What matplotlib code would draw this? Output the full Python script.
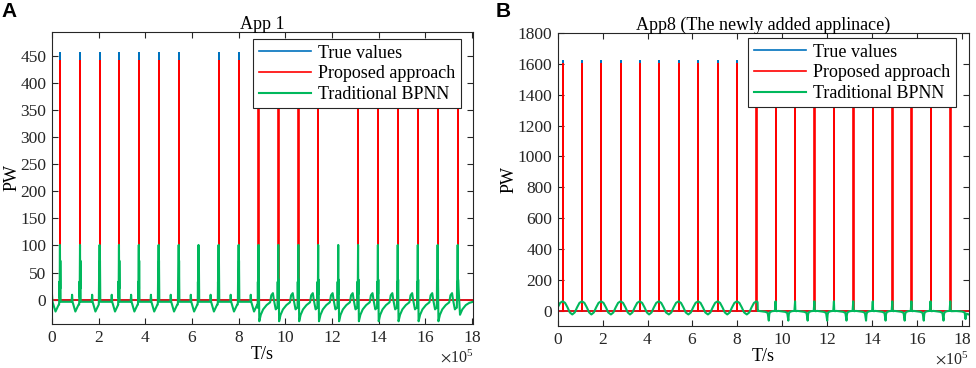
import numpy as np
import matplotlib
matplotlib.use('Agg')
import matplotlib.pyplot as plt
from matplotlib.ticker import MultipleLocator, ScalarFormatter

plt.rcParams['font.family'] = ['Liberation Serif', 'DejaVu Serif']
plt.rcParams['mathtext.fontset'] = 'stix'

# ---------------- App 1 (x in units of 1e5 s) ----------------
app1_spikes = [0.34, 1.20, 2.04, 2.87, 3.72, 4.57, 5.43, 7.14, 8.00,
               8.85, 9.70, 10.56, 11.41, 13.12, 13.97, 14.82, 15.68, 16.53, 17.39]
app1_true_peak = [455, 455, 455, 455, 455, 455, 455, 455, 455,
                  0, 0, 0, 0, 0, 0, 0, 0, 0, 0]
app1_prop_peak = [440] * 19
app1_bpnn_first = [0.34, 1.20, 2.04, 2.87, 3.72, 4.57, 5.43, 6.28, 7.14, 8.00]
app1_bpnn_second = [8.85, 9.70, 10.56, 11.41, 12.27, 13.12, 13.97, 14.82, 15.68, 16.53, 17.39]
app1_lead_t = [0.0, 0.02, 0.15, 0.29]
app1_lead_v = [9, -4, -22, -9]
# BPNN shape around each spike (offset from spike, value)
app1_cycA_off = [-0.035, -0.025, -0.015, 0.0, 0.008, 0.016, 0.03, 0.50, 0.52, 0.54, 0.66, 0.80]
app1_cycA_val = [-9, 33, 5, 101, 20, 72, -4, -4, 9, -4, -22, -9]
app1_cycB_off = [-0.035, -0.025, -0.015, 0.0, 0.008, 0.018, 0.035, 0.10, 0.20, 0.35, 0.50, 0.55, 0.62, 0.66, 0.74, 0.80]
app1_cycB_val = [-15, 33, 0, 101, 10, 37, -40, -28, -18, -10, -5, 8, 12, 0, -18, -15]
app1_tail_t = [17.39 + 0.035, 17.49, 17.59, 17.74, 17.89, 18.05, 18.2]
app1_tail_v = [-40, -28, -18, -10, -6, -4, -4]

# ---------------- App 8 ----------------
app8_spikes = [0.22, 1.08, 1.93, 2.80, 3.65, 4.50, 5.38, 6.25, 7.12, 7.98,
               8.85, 9.70, 10.57, 11.43, 12.30, 13.16, 14.03, 14.90, 15.75, 16.60, 17.48]
app8_true_peak = [1620] * 10 + [0] * 11
app8_prop_peak = [1600] * 21
app8_cycA_off = [-0.43, -0.32, -0.22, -0.11, 0.0, 0.11, 0.22, 0.32]
app8_cycA_val = [-25, -12, 20, 50, 60, 50, 20, -12]
app8_trans_off = [-0.43, -0.32, -0.22, -0.11, 0.0, 0.05, 0.06]
app8_trans_val = [-25, -12, 20, 50, 60, 55, -2]
app8_cycB_off = [-0.75, -0.45, -0.35, -0.30, -0.28, -0.25, -0.15, -0.03, 0.0, 0.015, 0.05]
app8_cycB_val = [-2, -8, -15, -65, -25, -10, -4, -2, 60, -2, -4]
app8_tail_t = [17.75, 18.0, 18.12, 18.16, 18.2, 18.3]
app8_tail_v = [-3, -6, -12, -55, -20, -25]


def spike_series(times, peaks, base, t_end, w=0.012):
    t, v = [0.0], [base]
    for ti, pk in zip(times, peaks):
        t += [ti, ti, ti + w, ti + w]
        v += [base, pk, pk, base]
    t.append(t_end)
    v.append(base)
    return np.array(t) * 1e5, np.array(v)


def place(times, offs, vals):
    t, v = [], []
    for ti in times:
        t += [ti + o for o in offs]
        v += list(vals)
    return t, v


# build BPNN curves from the read shapes
t1, v1 = list(app1_lead_t), list(app1_lead_v)
ta, va = place(app1_bpnn_first, app1_cycA_off, app1_cycA_val)
tb, vb = place(app1_bpnn_second[:-1], app1_cycB_off, app1_cycB_val)
tl, vl = place(app1_bpnn_second[-1:], app1_cycB_off[:6], app1_cycB_val[:6])
bp1_t = np.array(t1 + ta + tb + tl + app1_tail_t[1:]) * 1e5
bp1_v = np.array(v1 + va + vb + vl + app1_tail_v[1:])

ta, va = place(app8_spikes[:10], app8_cycA_off, app8_cycA_val)
tt, vt = place(app8_spikes[10:11], app8_trans_off, app8_trans_val)
tb, vb = place(app8_spikes[11:], app8_cycB_off, app8_cycB_val)
bp8_t = np.array(ta + tt + tb + app8_tail_t) * 1e5
bp8_v = np.array(va + vt + vb + app8_tail_v)

c_true = '#0072BD'
c_prop = '#FF0000'
c_bp = '#00B85C'

fig = plt.figure(figsize=(9.76, 3.68), dpi=100)
ax1 = fig.add_axes([0.0533, 0.1196, 0.4314, 0.7943])
ax2 = fig.add_axes([0.5714, 0.1141, 0.4211, 0.7962])

panels = [
    (ax1, app1_spikes, app1_true_peak, app1_prop_peak, 0, bp1_t, bp1_v,
     'App 1', (-45, 495), 50, 18.05, (0.9715, 0.974)),
    (ax2, app8_spikes, app8_true_peak, app8_prop_peak, -5, bp8_t, bp8_v,
     'App8 (The newly added applinace)', (-100, 1800), 200, 18.3, (0.969, 0.982)),
]

for ax, sp, tp, pp, pbase, bt, bv, title, ylim, ystep, xmax, anchor in panels:
    x, y = spike_series(sp, tp, 0, 18.4)
    ax.plot(x, y, color=c_true, lw=1.2, label='True values')
    x, y = spike_series(sp, pp, pbase, 18.4)
    ax.plot(x, y, color=c_prop, lw=1.2, label='Proposed approach')
    ax.plot(bt, bv, color=c_bp, lw=1.5, label='Traditional BPNN')

    ax.set_xlim(0, xmax * 1e5)
    ax.set_ylim(*ylim)
    ax.xaxis.set_major_locator(MultipleLocator(2e5))
    ax.yaxis.set_major_locator(MultipleLocator(ystep))
    fmt = ScalarFormatter(useMathText=True)
    fmt.set_powerlimits((5, 5))
    ax.xaxis.set_major_formatter(fmt)
    ax.xaxis.get_offset_text().set_fontsize(11.5)

    ax.tick_params(direction='in', top=True, right=True, length=4, width=0.8,
                   colors='#262626', labelsize=12.5, pad=4)
    for s in ax.spines.values():
        s.set_color('#262626')
        s.set_linewidth(0.8)

    ax.set_title(title, fontsize=13, pad=2)
    ax.set_xlabel('T/s', fontsize=13, labelpad=0)
    ax.set_ylabel('PW', fontsize=13, labelpad=0)

    leg = ax.legend(loc='upper right', bbox_to_anchor=anchor, fontsize=13,
                    frameon=True, fancybox=False, framealpha=1, edgecolor='#262626',
                    handlelength=2.9, borderaxespad=0, borderpad=0.3,
                    labelspacing=0.2, handletextpad=0.4)
    leg.get_frame().set_linewidth(0.8)

fig.text(0.002, 0.995, 'A', fontsize=15, fontweight='bold', family='Liberation Sans', va='top')
fig.text(0.508, 0.995, 'B', fontsize=15, fontweight='bold', family='Liberation Sans', va='top')

fig.savefig('out.png', dpi=100)
